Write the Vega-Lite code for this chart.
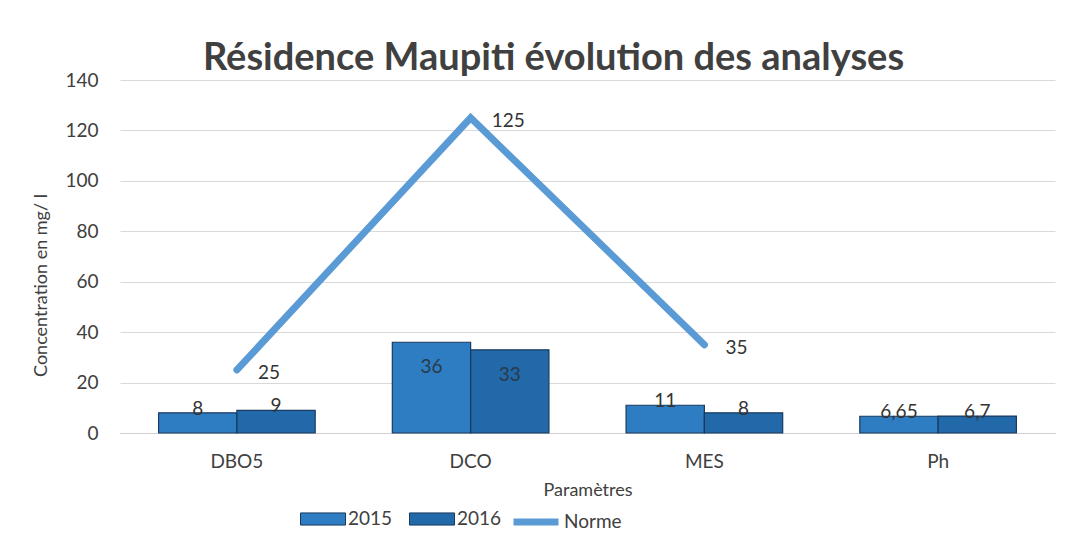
{
  "$schema": "https://vega.github.io/schema/vega-lite/v6.json",
  "width": 935,
  "height": 353,
  "autosize": {"type": "none"},
  "padding": {"left": 120, "top": 80, "right": 15, "bottom": 117},
  "background": "white",
  "config": {
    "font": "Lato",
    "view": {"stroke": null},
    "axis": {"labelFont": "Lato", "titleFont": "Lato", "labelColor": "#404040", "titleColor": "#404040", "labelFontSize": 19, "titleFontSize": 18, "titleFontWeight": "normal"},
    "legend": {"labelFont": "Lato", "labelFontSize": 19, "labelColor": "#404040"}
  },
  "title": {"text": "Résidence Maupiti évolution des analyses", "fontSize": 38, "font": "Lato", "fontWeight": "bold", "color": "#404040", "anchor": "middle", "dx": -34, "offset": -7},
  "datasets": {
    "bars": [
      {"param": "DBO5", "year": "2015", "value": 8, "label": "8"},
      {"param": "DBO5", "year": "2016", "value": 9, "label": "9"},
      {"param": "DCO", "year": "2015", "value": 36, "label": "36"},
      {"param": "DCO", "year": "2016", "value": 33, "label": "33"},
      {"param": "MES", "year": "2015", "value": 11, "label": "11"},
      {"param": "MES", "year": "2016", "value": 8, "label": "8"},
      {"param": "Ph", "year": "2015", "value": 6.65, "label": "6,65"},
      {"param": "Ph", "year": "2016", "value": 6.7, "label": "6,7"}
    ],
    "norme": [
      {"param": "DBO5", "value": 25, "label": "25"},
      {"param": "DCO", "value": 125, "label": "125"},
      {"param": "MES", "value": 35, "label": "35"}
    ]
  },
  "encoding": {
    "x": {"field": "param", "type": "nominal", "sort": ["DBO5", "DCO", "MES", "Ph"],
      "scale": {"domain": ["DBO5", "DCO", "MES", "Ph"], "paddingInner": 0.33, "paddingOuter": 0.165},
      "axis": {"title": "Paramètres", "labelAngle": 0, "labelPadding": 19, "titlePadding": 10, "ticks": false, "domainColor": "#d0d0d0", "grid": false}},
    "y": {"field": "value", "type": "quantitative",
      "scale": {"domain": [0, 140]},
      "axis": {"title": "Concentration en mg/ l", "values": [0, 20, 40, 60, 80, 100, 120, 140], "domain": false, "ticks": false, "labelPadding": 22, "titlePadding": 14, "titleY": 205, "titleAlign": "center", "gridColor": "#d9d9d9"}}
  },
  "layer": [
    {
      "data": {"name": "bars"},
      "mark": {"type": "bar", "stroke": "#1a3a5e", "strokeWidth": 1.2},
      "encoding": {
        "xOffset": {"field": "year", "type": "nominal", "scale": {"paddingInner": 0}},
        "fill": {"field": "year", "type": "nominal", "scale": {"domain": ["2015", "2016"], "range": ["#2E7DC2", "#2169A8"]},
          "legend": {"title": null, "orient": "none", "legendX": 180, "legendY": 416, "direction": "horizontal", "symbolType": "M-1,-0.27H1V0.27H-1Z", "symbolSize": 2025, "symbolStrokeColor": "#1a3a5e", "symbolStrokeWidth": 1, "columnPadding": 14, "labelOffset": 2}}
      }
    },
    {
      "data": {"name": "bars"},
      "transform": [{"filter": "datum.value > 20"}],
      "mark": {"type": "text", "baseline": "top", "dy": 16, "fontSize": 19, "color": "#2a3a4a"},
      "encoding": {
        "xOffset": {"field": "year", "type": "nominal"},
        "text": {"field": "label"}
      }
    },
    {
      "data": {"name": "bars"},
      "transform": [{"filter": "datum.value <= 20"}],
      "mark": {"type": "text", "baseline": "middle", "dy": -4, "fontSize": 19, "color": "#333333"},
      "encoding": {
        "xOffset": {"field": "year", "type": "nominal"},
        "text": {"field": "label"}
      }
    },
    {
      "data": {"name": "norme"},
      "mark": {"type": "line", "strokeWidth": 7, "strokeCap": "round", "strokeJoin": "miter"},
      "encoding": {
        "stroke": {"datum": "Norme", "type": "nominal", "scale": {"domain": ["Norme"], "range": ["#5B9BD5"]},
          "legend": {"title": null, "orient": "none", "legendX": 390, "legendY": 416, "symbolType": "stroke", "symbolSize": 2025, "symbolStrokeWidth": 7, "labelOffset": 2}}
      }
    },
    {
      "data": {"name": "norme"},
      "mark": {"type": "text", "align": "left", "baseline": "middle", "dx": 21, "dy": 3, "fontSize": 19, "color": "#333333"},
      "encoding": {"text": {"field": "label"}}
    }
  ]
}
